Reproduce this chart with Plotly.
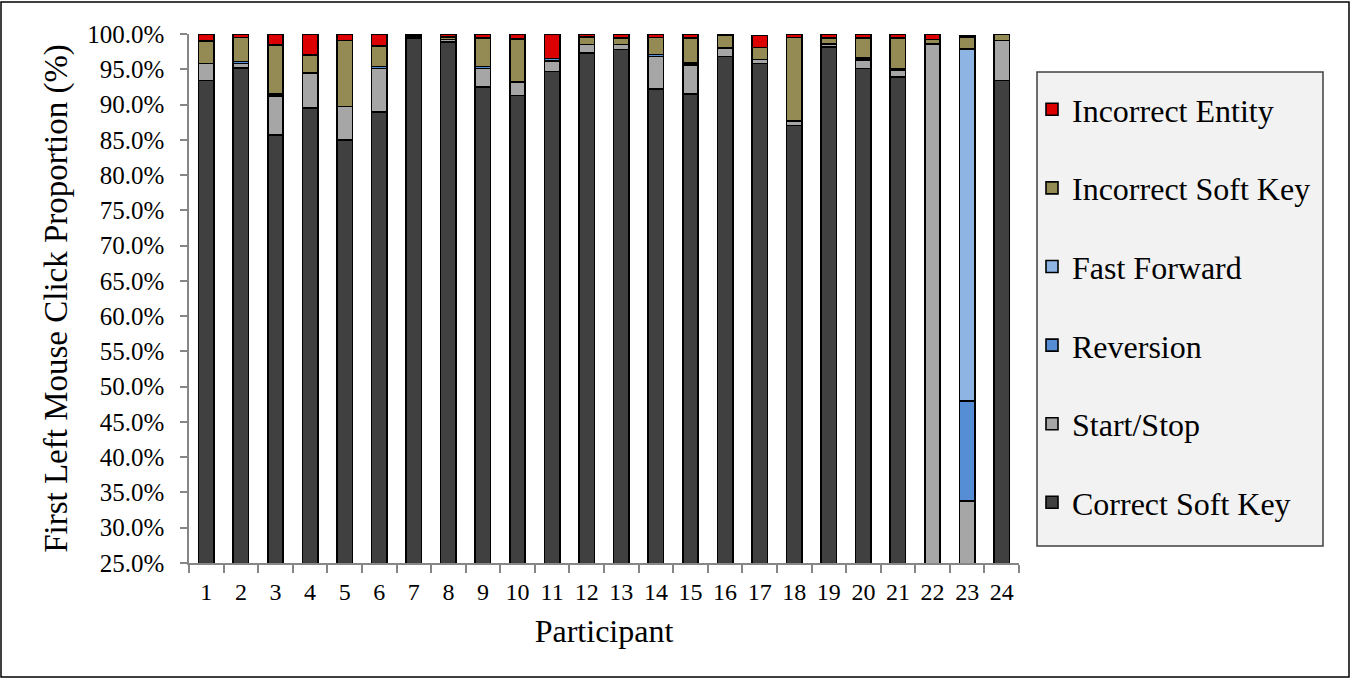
import plotly.graph_objects as go

# Participants 1..24
participants = [str(i) for i in range(1, 25)]

# First left mouse click proportions (%) per click category
correct_soft_key = [93.4, 95.2, 85.7, 89.5, 85.0, 88.9, 99.4, 98.9, 92.5, 91.3, 94.7, 97.3,
                    97.8, 92.2, 91.5, 96.8, 95.8, 87.0, 98.2, 95.1, 93.9, 0.0, 0.0, 93.4]
start_stop = [2.4, 0.6, 5.5, 5.0, 4.7, 6.2, 0.2, 0.3, 2.6, 1.9, 1.5, 1.2,
              0.7, 4.6, 4.1, 1.2, 0.6, 0.7, 0.4, 1.2, 1.0, 98.6, 33.8, 5.7]
reversion = [0.0, 0.3, 0.3, 0.0, 0.0, 0.3, 0.0, 0.0, 0.3, 0.0, 0.3, 0.0,
             0.0, 0.3, 0.3, 0.0, 0.0, 0.0, 0.0, 0.3, 0.2, 0.0, 14.2, 0.0]
fast_forward = [0.0] * 22 + [49.9, 0.0]
incorrect_soft_key = [3.2, 3.4, 6.9, 2.5, 9.4, 2.9, 0.2, 0.4, 4.0, 6.1, 0.0, 1.1,
                      0.9, 2.4, 3.5, 1.8, 1.7, 11.8, 0.8, 2.8, 4.3, 0.6, 1.7, 0.9]
incorrect_entity = [1.0, 0.5, 1.6, 3.0, 0.9, 1.7, 0.2, 0.4, 0.6, 0.7, 3.5, 0.4,
                    0.6, 0.5, 0.6, 0.2, 1.7, 0.5, 0.6, 0.6, 0.6, 0.8, 0.2, 0.0]

y_ticks = [25 + 5 * i for i in range(16)]

# stacking order bottom -> top
series = [
    ("Correct Soft Key", correct_soft_key, "#404040"),
    ("Start/Stop", start_stop, "#a6a6a6"),
    ("Reversion", reversion, "#558ed5"),
    ("Fast Forward", fast_forward, "#8eb4e3"),
    ("Incorrect Soft Key", incorrect_soft_key, "#948a54"),
    ("Incorrect Entity", incorrect_entity, "#dd0000"),
]

FONT = "Liberation Serif, Times New Roman, serif"

fig = go.Figure()
for i, (name, vals, color) in enumerate(series):
    fig.add_trace(go.Bar(
        x=participants, y=vals, name=name, legendgroup=name,
        legendrank=len(series) - i,
        marker=dict(color=color, line=dict(color="#000000", width=1.6)),
    ))

# plot area geometry (pixels)
W, H = 1351, 679
L, R, T, B = 189, 1019, 34, 563
pw, ph = R - L, B - T

def px(x):
    return (x - L) / pw

def py(y):
    return (B - y) / ph

fig.update_layout(
    width=W, height=H,
    margin=dict(l=L, r=W - R, t=T, b=H - B, autoexpand=False),
    barmode="stack", bargap=0.555,
    paper_bgcolor="white", plot_bgcolor="white",
    font=dict(family=FONT, color="#000000", size=24),
    showlegend=True,
    legend=dict(
        x=px(1032), y=py(82), xanchor="left", yanchor="top",
        bgcolor="rgba(0,0,0,0)", borderwidth=0,
        font=dict(family=FONT, size=32, color="#000000"),
        traceorder="grouped", tracegroupgap=34,
        itemclick=False,
    ),
    shapes=[
        # legend frame
        dict(type="rect", xref="paper", yref="paper",
             x0=px(1037), x1=px(1323), y0=py(546), y1=py(72),
             fillcolor="#f2f2f2", line=dict(color="#404040", width=1.5), layer="below"),
        # outer frame of the figure
        dict(type="rect", xref="paper", yref="paper",
             x0=px(1), x1=px(1349), y0=py(677), y1=py(2),
             fillcolor="rgba(0,0,0,0)", line=dict(color="#000000", width=1.5), layer="below"),
    ],
)

fig.update_xaxes(
    type="category", showline=True, linecolor="#868686", linewidth=1.5,
    ticks="outside", tickson="boundaries", ticklen=8, tickcolor="#868686", tickwidth=1.5,
    showgrid=False, tickfont=dict(family=FONT, size=24), ticklabelstandoff=6,
    title=dict(text="Participant", font=dict(family=FONT, size=32), standoff=16),
)
fig.update_yaxes(
    range=[25, 100], tickvals=y_ticks, ticktext=[f"{v:.1f}%" for v in y_ticks],
    showline=True, linecolor="#868686", linewidth=1.5,
    ticks="outside", ticklen=7, tickcolor="#868686", tickwidth=1.5,
    showgrid=False, zeroline=False, tickfont=dict(family=FONT, size=25), ticklabelstandoff=11,
    title=dict(text="First Left Mouse Click Proportion (%)", font=dict(family=FONT, size=33), standoff=10),
)

fig.write_html("out.html")
